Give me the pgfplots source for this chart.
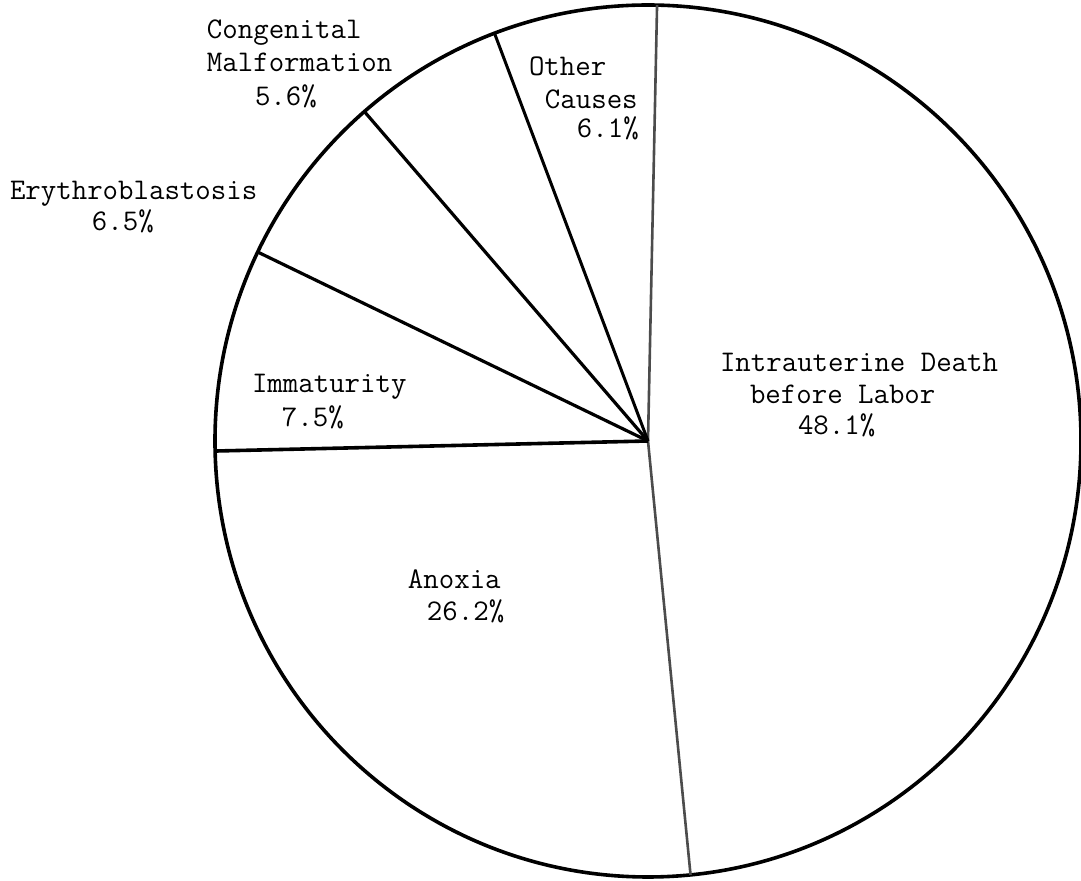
\documentclass[border=0pt]{standalone}
\usepackage{pgfplots}
\pgfplotsset{compat=1.18}
\tikzset{lbl/.style={inner sep=0pt, outer sep=0pt, font=\ttfamily\fontsize{15bp}{17bp}\selectfont, anchor=base west}}
\begin{document}
\begin{tikzpicture}
\begin{axis}[
  scale only axis, width=540.5bp, height=440.5bp,
  xmin=-1.4965, xmax=1.0, ymin=-1.0092, ymax=1.0115,
  hide axis, clip=false,
]
\coordinate (bl) at (rel axis cs:0,0);
\coordinate (tr) at (rel axis cs:1,1);
% outline of the pie
\draw[line width=1.8bp] (axis cs:0,0) ellipse [x radius=1, y radius=1];
% slice boundaries (start 88.8 deg, clockwise):
% 48.1% -> 173.16 deg, 26.2% -> 94.32, 7.5% -> 27.0, 6.5% -> 23.4, 5.6% -> 20.16, 6.1% -> 21.96
\addplot[data cs=polar, gray!60!black, line width=1.3bp] coordinates {(88.8,0) (88.8,1)};
\addplot[data cs=polar, gray!60!black, line width=1.3bp] coordinates {(-84.36,0) (-84.36,1)};
\addplot[data cs=polar, black, line width=1.8bp] coordinates {(181.32,0) (181.32,1)};
\addplot[data cs=polar, black, line width=1.6bp] coordinates {(154.32,0) (154.32,1)};
\addplot[data cs=polar, black, line width=1.6bp] coordinates {(130.92,0) (130.92,1)};
\addplot[data cs=polar, black, line width=1.5bp] coordinates {(110.76,0) (110.76,1)};
% labels
\node[lbl] at (axis cs:-1.0185,0.9243) {Congenital};
\node[lbl] at (axis cs:-1.0185,0.8486) {Malformation};
\node[lbl] at (axis cs:-0.9076,0.7706) {5.6\%};
\node[lbl] at (axis cs:-1.4734,0.5528) {Erythroblastosis};
\node[lbl] at (axis cs:-1.2841,0.4817) {6.5\%};
\node[lbl] at (axis cs:-0.9145,0.1101) {Immaturity};
\node[lbl] at (axis cs:-0.8453,0.0321) {7.5\%};
\node[lbl] at (axis cs:-0.5543,-0.3394) {Anoxia};
\node[lbl] at (axis cs:-0.5104,-0.4106) {26.2\%};
\node[lbl] at (axis cs:-0.2748,0.8372) {Other};
\node[lbl] at (axis cs:-0.2379,0.7615) {Causes};
\node[lbl] at (axis cs:-0.1640,0.6950) {6.1\%};
\node[lbl] at (axis cs:0.1663,0.1583) {Intrauterine Death};
\node[lbl] at (axis cs:0.2356,0.0849) {before Labor};
\node[lbl] at (axis cs:0.3464,0.0138) {48.1\%};
\end{axis}
\pgfresetboundingbox
\path (bl) rectangle (tr);
\end{tikzpicture}
\end{document}
